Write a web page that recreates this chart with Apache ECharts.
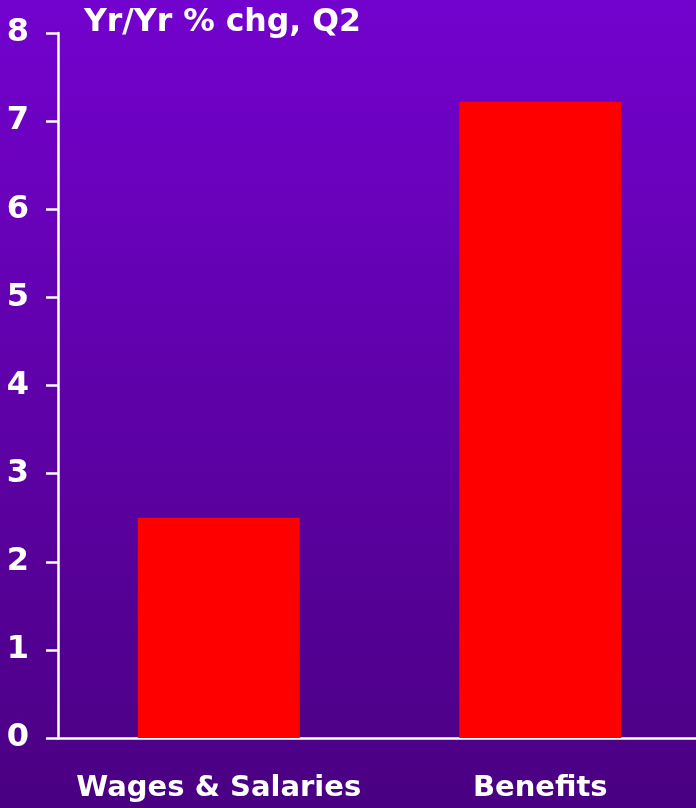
<!DOCTYPE html>
<html>
<head>
<meta charset="utf-8">
<script src="https://cdn.jsdelivr.net/npm/echarts@6/dist/echarts.min.js"></script>
<style>
  html, body { margin: 0; padding: 0; overflow: hidden; background: #4A0082; }
  #chart { width: 701px; height: 808px; }
</style>
</head>
<body>
<div id="chart"></div>
<script>
// Year-over-year change in compensation components, Q2
const categories = ['Wages & Salaries', 'Benefits'];
const pctChange = [2.5, 7.22];
const yTicks = { min: 0, max: 8, step: 1 };
const titleText = 'Yr/Yr % chg, Q2';

const FONT = 'DejaVu Sans';
const chart = echarts.init(document.getElementById('chart'), null, { renderer: 'canvas' });

chart.setOption({
  animation: false,
  backgroundColor: new echarts.graphic.LinearGradient(0, 0, 0, 1, [
    { offset: 0, color: '#7302CE' },
    { offset: 1, color: '#4A0082' }
  ]),
  title: {
    text: titleText,
    left: 79,
    top: 2,
    textStyle: { color: '#ffffff', fontFamily: FONT, fontWeight: 'bold', fontSize: 31.5 }
  },
  grid: { left: 58, right: 0, top: 33, bottom: 70, containLabel: false },
  xAxis: {
    type: 'category',
    data: categories,
    axisLine: { lineStyle: { color: '#ffffff', width: 2.5 } },
    axisTick: { show: false },
    axisLabel: {
      interval: 0,
      color: '#ffffff', fontFamily: FONT, fontWeight: 'bold', fontSize: 29, margin: 36
    }
  },
  yAxis: {
    type: 'value',
    min: yTicks.min,
    max: yTicks.max,
    interval: yTicks.step,
    axisLine: { show: true, lineStyle: { color: '#ffffff', width: 2.5 } },
    axisTick: { show: true, inside: false, length: 12, lineStyle: { color: '#ffffff', width: 2.5 } },
    splitLine: { show: false },
    axisLabel: {
      color: '#ffffff', fontFamily: FONT, fontWeight: 'bold', fontSize: 32, margin: 29
    }
  },
  series: [{
    type: 'bar',
    data: pctChange,
    barWidth: 162,
    itemStyle: { color: '#ff0000' }
  }]
});
</script>
</body>
</html>
